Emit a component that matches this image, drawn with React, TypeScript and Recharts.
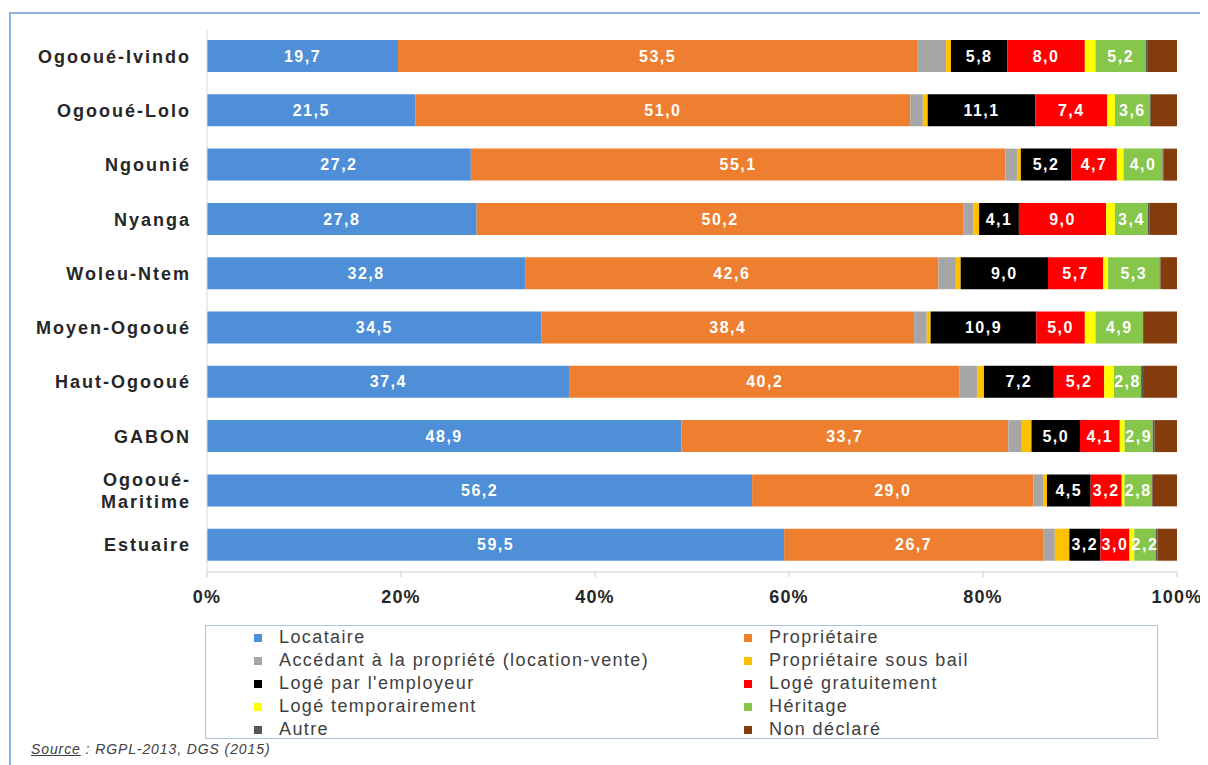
import React from "react";
import { BarChart, Bar, XAxis, YAxis, Legend, LabelList } from "recharts";

const categories = [
  "Ogooué-Ivindo",
  "Ogooué-Lolo",
  "Ngounié",
  "Nyanga",
  "Woleu-Ntem",
  "Moyen-Ogooué",
  "Haut-Ogooué",
  "GABON",
  "Ogooué-Maritime",
  "Estuaire",
];

const locataire = [19.7, 21.5, 27.2, 27.8, 32.8, 34.5, 37.4, 48.9, 56.2, 59.5];
const proprietaire = [53.5, 51.0, 55.1, 50.2, 42.6, 38.4, 40.2, 33.7, 29.0, 26.7];
const accedant = [3.0, 1.3, 1.2, 1.0, 1.8, 1.3, 1.8, 1.4, 1.0, 1.2];
const sousBail = [0.5, 0.5, 0.4, 0.6, 0.5, 0.4, 0.7, 1.0, 0.4, 1.5];
const employeur = [5.8, 11.1, 5.2, 4.1, 9.0, 10.9, 7.2, 5.0, 4.5, 3.2];
const gratuit = [8.0, 7.4, 4.7, 9.0, 5.7, 5.0, 5.2, 4.1, 3.2, 3.0];
const temporaire = [1.1, 0.8, 0.7, 0.9, 0.5, 1.1, 1.0, 0.5, 0.3, 0.5];
const heritage = [5.2, 3.6, 4.0, 3.4, 5.3, 4.9, 2.8, 2.9, 2.8, 2.2];
const autre = [0.2, 0.1, 0.1, 0.2, 0.1, 0.1, 0.2, 0.2, 0.1, 0.2];
const nonDeclare = [3.0, 2.7, 1.4, 2.8, 1.7, 3.4, 3.5, 2.3, 2.5, 2.0];

const xTicks = [0, 20, 40, 60, 80, 100];

const series = [
  { key: "locataire", name: "Locataire", color: "#4e8fd8", label: true, values: locataire },
  { key: "proprietaire", name: "Propriétaire", color: "#ef7f30", label: true, values: proprietaire },
  { key: "accedant", name: "Accédant à la propriété (location-vente)", color: "#a6a6a6", label: false, values: accedant },
  { key: "sousBail", name: "Propriétaire sous bail", color: "#ffc000", label: false, values: sousBail },
  { key: "employeur", name: "Logé par l'employeur", color: "#000000", label: true, values: employeur },
  { key: "gratuit", name: "Logé gratuitement", color: "#ff0000", label: true, values: gratuit },
  { key: "temporaire", name: "Logé temporairement", color: "#ffff00", label: false, values: temporaire },
  { key: "heritage", name: "Héritage", color: "#86c64a", label: true, values: heritage },
  { key: "autre", name: "Autre", color: "#595959", label: false, values: autre },
  { key: "nonDeclare", name: "Non déclaré", color: "#843c0c", label: false, values: nonDeclare },
];

const data = categories.map((name, i) => {
  const row: Record<string, any> = { name };
  series.forEach((s) => (row[s.key] = s.values[i]));
  return row;
});

const fmt = (v: any) => Number(v).toFixed(1).replace(".", ",");

function CategoryTick({ x, y, payload }: any) {
  const name: string = payload.value;
  const cut = name.indexOf("-") + 1;
  const lines = name.length > 14 ? [name.slice(0, cut), name.slice(cut)] : [name];
  return (
    <text
      x={x}
      y={y}
      textAnchor="end"
      fill="#262626"
      fontFamily="Liberation Sans, Arial, sans-serif"
      fontWeight="bold"
      fontSize={18}
      letterSpacing={2}
    >
      {lines.map((l, i) => (
        <tspan key={i} x={x} dy={i === 0 ? (lines.length > 1 ? -5 : 6.5) : 22}>
          {l}
        </tspan>
      ))}
    </text>
  );
}

function LegendBox() {
  return (
    <div
      style={{
        width: 953,
        height: 114,
        border: "1px solid #aec3dc",
        background: "#fff",
        display: "grid",
        gridTemplateColumns: "490px 1fr",
        paddingLeft: 48,
        boxSizing: "border-box",
        fontFamily: "Liberation Sans, Arial, sans-serif",
        fontSize: 18,
        letterSpacing: 1.4,
        color: "#404040",
        lineHeight: "23px",
      }}
    >
      {series.map((s) => (
        <div key={s.key} style={{ display: "flex", alignItems: "center", whiteSpace: "nowrap" }}>
          <span style={{ width: 8, height: 8, background: s.color, marginRight: 17, flex: "none" }} />
          {s.name}
        </div>
      ))}
    </div>
  );
}

export default function App() {
  return (
    <div style={{ position: "relative", width: 1200, height: 757, fontFamily: "Liberation Sans, Arial, sans-serif" }}>
      <div
        style={{
          position: "absolute",
          left: 1,
          top: 4,
          width: 1199,
          height: 753,
          borderTop: "2px solid #8eb2df",
          borderLeft: "2px solid #8eb2df",
          boxSizing: "border-box",
        }}
      />
      <div style={{ position: "absolute", left: 0, top: 0 }}>
        <BarChart
          width={1200}
          height={745}
          data={data}
          layout="vertical"
          barSize={32}
          margin={{ top: 21, right: 31, left: 0, bottom: 151 }}
        >
          <XAxis
            type="number"
            domain={[0, 100]}
            ticks={xTicks}
            allowDataOverflow
            tickFormatter={(v) => `${v}%`}
            axisLine={{ stroke: "#c3ccd8" }}
            tickLine={{ stroke: "#c3ccd8" }}
            tickSize={5}
            tickMargin={13}
            height={30}
            tick={{ fill: "#262626", fontSize: 18, fontWeight: "bold", letterSpacing: 1.2 }}
          />
          <YAxis
            type="category"
            dataKey="name"
            width={199}
            axisLine={{ stroke: "#d9d9d9" }}
            tickLine={false}
            tickSize={0}
            tickMargin={16}
            interval={0}
            tick={<CategoryTick />}
          />
          <Legend
            layout="vertical"
            align="center"
            verticalAlign="middle"
            wrapperStyle={{ left: 197, top: 617, width: 955, height: 116 }}
            content={() => <LegendBox />}
          />
          {series.map((s) => (
            <Bar key={s.key} dataKey={s.key} name={s.name} stackId="a" fill={s.color} isAnimationActive={false}>
              {s.label && (
                <LabelList
                  dataKey={s.key}
                  position="center"
                  formatter={fmt}
                  fill="#ffffff"
                  fontSize={16}
                  fontWeight="bold"
                  letterSpacing={1.5}
                />
              )}
            </Bar>
          ))}
        </BarChart>
      </div>
      <div
        style={{
          position: "absolute",
          left: 23,
          top: 733,
          fontSize: 14,
          fontStyle: "italic",
          color: "#404040",
          letterSpacing: 0.9,
        }}
      >
        <span style={{ textDecoration: "underline" }}>Source</span> : RGPL-2013, DGS (2015)
      </div>
    </div>
  );
}
